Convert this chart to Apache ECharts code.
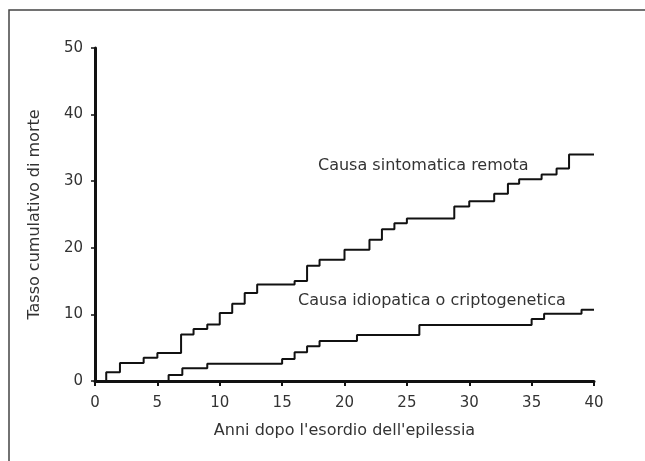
<!DOCTYPE html>
<html>
<head>
<meta charset="utf-8">
<script src="https://cdn.jsdelivr.net/npm/echarts@6/dist/echarts.min.js"></script>
<style>html,body{margin:0;padding:0;background:#fff}#c{width:645px;height:461px}</style>
</head>
<body>
<div id="c"></div>
<script>
// Causa sintomatica remota: step times (anni) and cumulative rate after step
var symTimes  = [0, 0.9, 2, 3.9, 5, 6.9, 7.9, 9, 10, 11, 12, 13, 16, 17, 18, 20, 22, 23, 24, 25, 28.8, 30, 32, 33.1, 34, 35.8, 37, 38, 40];
var symValues = [0, 1.3, 2.7, 3.5, 4.2, 7.0, 7.8, 8.5, 10.2, 11.6, 13.2, 14.5, 15.0, 17.3, 18.2, 19.7, 21.2, 22.8, 23.7, 24.4, 26.2, 27.0, 28.1, 29.6, 30.3, 31.0, 31.9, 34.0, 34.0];
// Causa idiopatica o criptogenetica
var idiTimes  = [0, 5.9, 7, 9, 15, 16, 17, 18, 21, 26, 35, 36, 39, 40];
var idiValues = [0, 0.9, 1.9, 2.6, 3.3, 4.3, 5.2, 6.0, 6.9, 8.4, 9.3, 10.1, 10.7, 10.7];
var xTicks = [0, 5, 10, 15, 20, 25, 30, 35, 40];
var yTicks = [0, 10, 20, 30, 40, 50];
var symName = 'Causa sintomatica remota';
var idiName = 'Causa idiopatica o criptogenetica';
var xTitle = "Anni dopo l'esordio dell'epilessia";
var yTitle = 'Tasso cumulativo di morte';

function pairs(t, v) { return t.map(function (x, i) { return [x, v[i]]; }); }

var FONT = 'DejaVu Sans';
var chart = echarts.init(document.getElementById('c'), null, {renderer: 'canvas'});
chart.setOption({
  animation: false,
  backgroundColor: '#fff',
  grid: {left: 95, right: 51, top: 48, bottom: 80},
  xAxis: {
    type: 'value', min: 0, max: 40, interval: 5,
    name: xTitle, nameLocation: 'middle', nameGap: 42,
    nameTextStyle: {fontFamily: FONT, fontSize: 16, color: '#333'},
    axisLine: {show: true, onZero: false, lineStyle: {color: '#111', width: 3}},
    axisTick: {show: true, length: 5, lineStyle: {color: '#111', width: 2}},
    axisLabel: {margin: 15, fontFamily: FONT, fontSize: 15, color: '#333',
      formatter: function (v) { return xTicks.indexOf(v) >= 0 ? String(v) : ''; }},
    splitLine: {show: false}
  },
  yAxis: {
    type: 'value', min: 0, max: 50, interval: 10,
    name: yTitle, nameLocation: 'middle', nameGap: 52, nameRotate: 90,
    nameTextStyle: {fontFamily: FONT, fontSize: 16, color: '#333'},
    axisLine: {show: true, onZero: false, lineStyle: {color: '#111', width: 3}},
    axisTick: {show: true, length: 4, lineStyle: {color: '#111', width: 1.5}},
    axisLabel: {margin: 12, fontFamily: FONT, fontSize: 15, color: '#333',
      formatter: function (v) { return yTicks.indexOf(v) >= 0 ? String(v) : ''; }},
    splitLine: {show: false}
  },
  series: [
    {type: 'line', name: symName, step: 'end', data: pairs(symTimes, symValues),
      showSymbol: false, lineStyle: {color: '#111', width: 2}},
    {type: 'line', name: idiName, step: 'end', data: pairs(idiTimes, idiValues),
      showSymbol: false, lineStyle: {color: '#111', width: 2}}
  ],
  graphic: [
    {type: 'rect', shape: {x: 9, y: 10, width: 700, height: 500},
      style: {fill: 'none', stroke: '#444', lineWidth: 1.5}, silent: true},
    {type: 'text', x: 318, y: 166, style: {text: symName, font: '16px "DejaVu Sans"', fill: '#333', verticalAlign: 'middle'}},
    {type: 'text', x: 298, y: 301, style: {text: idiName, font: '16px "DejaVu Sans"', fill: '#333', verticalAlign: 'middle'}}
  ]
});
</script>
</body>
</html>
